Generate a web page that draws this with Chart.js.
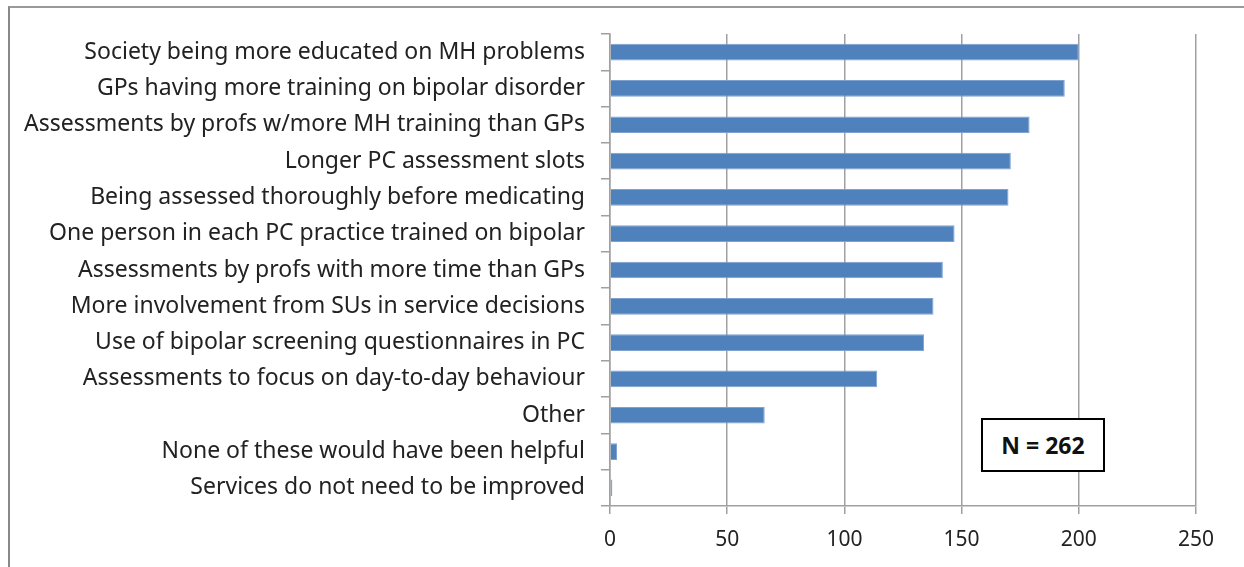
<!DOCTYPE html>
<html>
<head>
<meta charset="utf-8">
<script src="https://cdn.jsdelivr.net/npm/chart.js@4"></script>
<style>
  body { margin: 0; background: #fff; }
  #wrap { position: relative; width: 1244px; height: 567px; }
  #frame { position: absolute; left: 8px; top: 6px; right: 0; bottom: 0;
           border-top: 2px solid #999; border-left: 2px solid #888; }
  #nbox { position: absolute; left: 981px; top: 418px; width: 120px; height: 50px;
          border: 2px solid #000; background: #fff; font: bold 23px "Noto Sans", sans-serif;
          color: #111; display: flex; align-items: center; justify-content: center; }
</style>
</head>
<body>
<div id="wrap">
  <div id="frame"></div>
  <canvas id="barChart" width="1244" height="567"></canvas>
  <div id="nbox">N = 262</div>
</div>
<script>
const categories = [
    'Society being more educated on MH problems',
    'GPs having more training on bipolar disorder',
    'Assessments by profs w/more MH training than GPs',
    'Longer PC assessment slots',
    'Being assessed thoroughly before medicating',
    'One person in each PC practice trained on bipolar',
    'Assessments by profs with more time than GPs',
    'More involvement from SUs in service decisions',
    'Use of bipolar screening questionnaires in PC',
    'Assessments to focus on day-to-day behaviour',
    'Other',
    'None of these would have been helpful',
    'Services do not need to be improved'
];
const responses = [200, 194, 179, 171, 170, 147, 142, 138, 134, 114, 66, 3, 1];
const xTicks = [0, 50, 100, 150, 200, 250];

function renderBarChart() {
    const ctx = document.getElementById('barChart').getContext('2d');

    new Chart(ctx, {
        type: 'bar',
        data: {
            labels: categories,
            datasets: [{
                data: responses,
                backgroundColor: '#4F81BD',
                borderColor: '#7DA1D0',
                borderWidth: 1,
                barPercentage: 0.46,
                categoryPercentage: 1
            }]
        },
        options: {
            indexAxis: 'y',
            responsive: false,
            animation: false,
            layout: { padding: { top: 34, right: 48, bottom: 0, left: 0 } },
            plugins: { legend: { display: false }, tooltip: { enabled: false } },
            scales: {
                x: {
                    min: 0,
                    max: 250,
                    afterBuildTicks: scale => { scale.ticks = xTicks.map(v => ({ value: v })); },
                    afterFit: scale => { scale.height = 61; },
                    grid: { color: '#a0a0a0', lineWidth: 1.5, tickLength: 8 },
                    border: { color: '#a0a0a0', width: 1.5 },
                    ticks: { color: '#222', padding: 13, font: { family: 'Noto Sans', size: 21 } }
                },
                y: {
                    afterFit: scale => { scale.width = 610; },
                    grid: { offset: true, drawOnChartArea: false, color: '#a0a0a0', lineWidth: 1.5, tickLength: 9 },
                    border: { color: '#a0a0a0', width: 1.5 },
                    ticks: { color: '#222', padding: 16, font: { family: 'Noto Sans', size: 23 } }
                }
            }
        }
    });
}

renderBarChart();
</script>
</body>
</html>
